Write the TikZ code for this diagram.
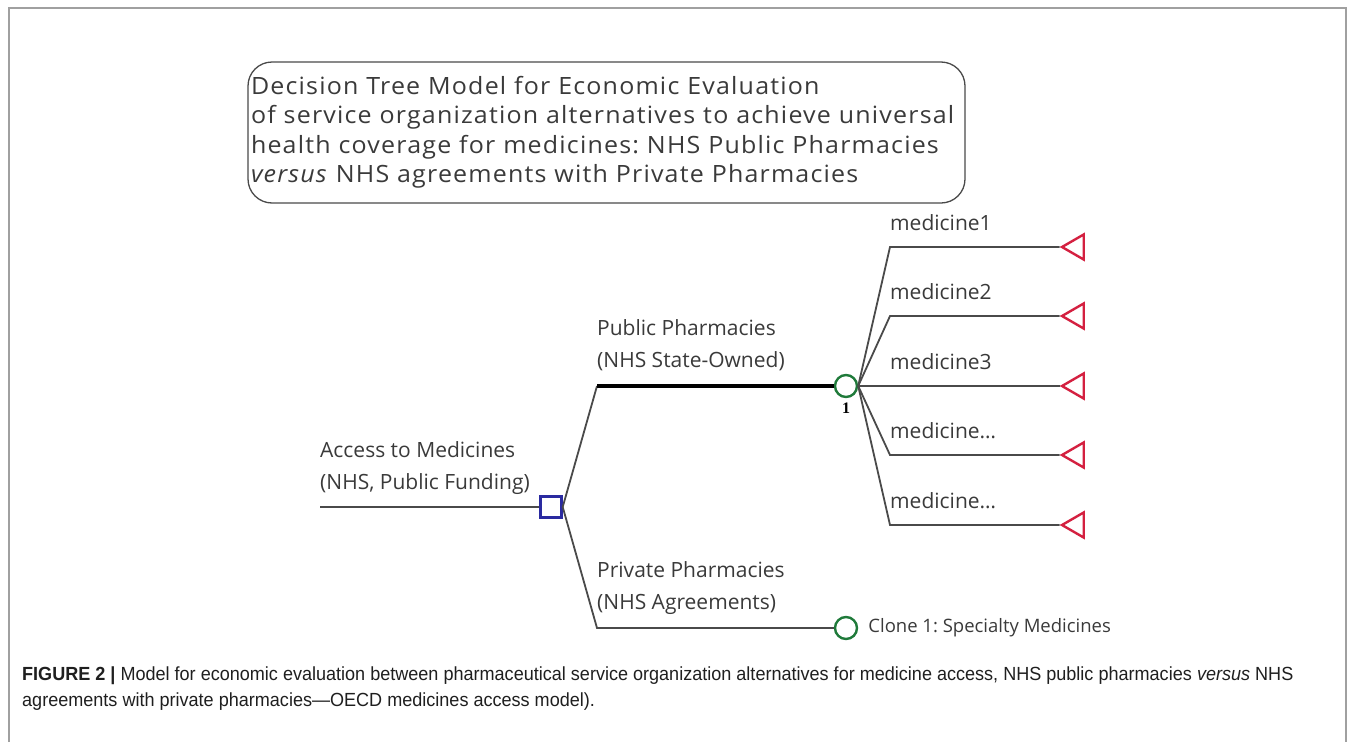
\documentclass[tikz,border=0pt]{standalone}
\usepackage{fontspec}
\setmainfont{Open Sans}
\newfontfamily\titlefont[LetterSpace=5, FakeStretch=1.05]{Open Sans}
\newfontfamily\capfont[FakeStretch=0.95]{Liberation Sans}
\newfontfamily\numfont{Liberation Serif}
\usetikzlibrary{positioning,shapes.geometric}
\frenchspacing

\definecolor{branchgray}{HTML}{4A4A4A}
\definecolor{labelgray}{HTML}{3A3A3A}
\definecolor{decblue}{HTML}{2A2AA0}
\definecolor{chancegreen}{HTML}{1F7A3A}
\definecolor{termred}{HTML}{D42040}
\definecolor{framegray}{HTML}{A0A0A0}

\tikzset{
  branch/.style={draw=branchgray, line width=1.8pt},
  mainbranch/.style={draw=black, line width=3.5pt},
  decision/.style={rectangle, draw=decblue, line width=2.4pt, minimum size=21pt, inner sep=0pt},
  chance/.style={circle, draw=chancegreen, line width=2.4pt, minimum size=22pt, inner sep=0pt},
  terminal/.style={regular polygon, regular polygon sides=3, shape border rotate=90,
    draw=termred, line width=2.4pt, minimum size=29pt, inner sep=0pt},
  brlabel/.style={anchor=south west, align=left, inner sep=0pt, text=labelgray,
    font=\fontsize{21}{32}\selectfont},
  medlabel/.style={anchor=south west, inner sep=0pt, text=labelgray,
    font=\fontsize{21}{25}\selectfont}
}

\begin{document}
\begin{tikzpicture}[x=1pt, y=-1pt]
\useasboundingbox (0,0) rectangle (1355,742);
\draw[framegray, line width=1.5pt] (9,742) -- (9,8) -- (1346,8) -- (1346,742);

% title
\node[draw=branchgray, line width=1.3pt, rounded corners=24pt, minimum width=717pt,
      minimum height=141pt, text width=711pt, align=left, inner xsep=3pt,
      text=labelgray, font=\titlefont\fontsize{23.8}{29.5}\selectfont] (title) at (606.5,132.5)
  {Decision Tree Model for Economic Evaluation\\
   of service organization alternatives to achieve universal\\
   health coverage for medicines: NHS Public Pharmacies\\
   \emph{versus} NHS agreements with Private Pharmacies};

% tree nodes
\coordinate (root) at (320,507);
\node[decision] (dec) at (551,507) {};
\node[chance] (pub) at (846,386) {};
\node[below=5pt of pub, inner sep=0pt, font=\numfont\bfseries\fontsize{16}{16}\selectfont] (pubnum) {1};
\node[chance] (priv) at (846,628) {};
\node[right=10pt of priv, inner sep=0pt, text=labelgray, font=\fontsize{18.5}{20}\selectfont] (clone)
  {Clone 1: Specialty Medicines};

\coordinate (pubk) at (597,386);
\coordinate (privk) at (597,628);

\draw[branch] (root) -- (dec);
\draw[branch] (dec.east) -- (pubk);
\draw[mainbranch] (pubk) -- (pub);
\draw[branch] (dec.east) -- (privk) -- (priv);

\node[brlabel] (accl) at ([yshift=12pt]root) {Access to Medicines\\(NHS, Public Funding)};
\node[brlabel] (publ) at ([yshift=15pt]pubk) {Public Pharmacies\\(NHS State-Owned)};
\node[brlabel] (privl) at ([yshift=13pt]privk) {Private Pharmacies\\(NHS Agreements)};

% medicines
\foreach \i/\y/\txt in {1/247/medicine1, 2/316/medicine2, 3/386/medicine3, 4/455/{medicine\ldots}, 5/525/{medicine\ldots}} {
  \coordinate (mk\i) at (890,\y);
  \node[terminal] (t\i) at (1076.5,\y) {};
  \draw[branch] (pub.east) -- (mk\i) -- (t\i);
  \node[medlabel] (ml\i) at ([yshift=16pt]mk\i) {\txt};
}

% caption
\node[anchor=north west, align=left, inner sep=0pt, text=black!88,
      font=\capfont\fontsize{19}{26}\selectfont] (cap) at (22,667)
  {\textbf{FIGURE 2 |} Model for economic evaluation between pharmaceutical service organization alternatives for medicine access, NHS public pharmacies \emph{versus} NHS\\
   agreements with private pharmacies—OECD medicines access model).};
\end{tikzpicture}
\end{document}
